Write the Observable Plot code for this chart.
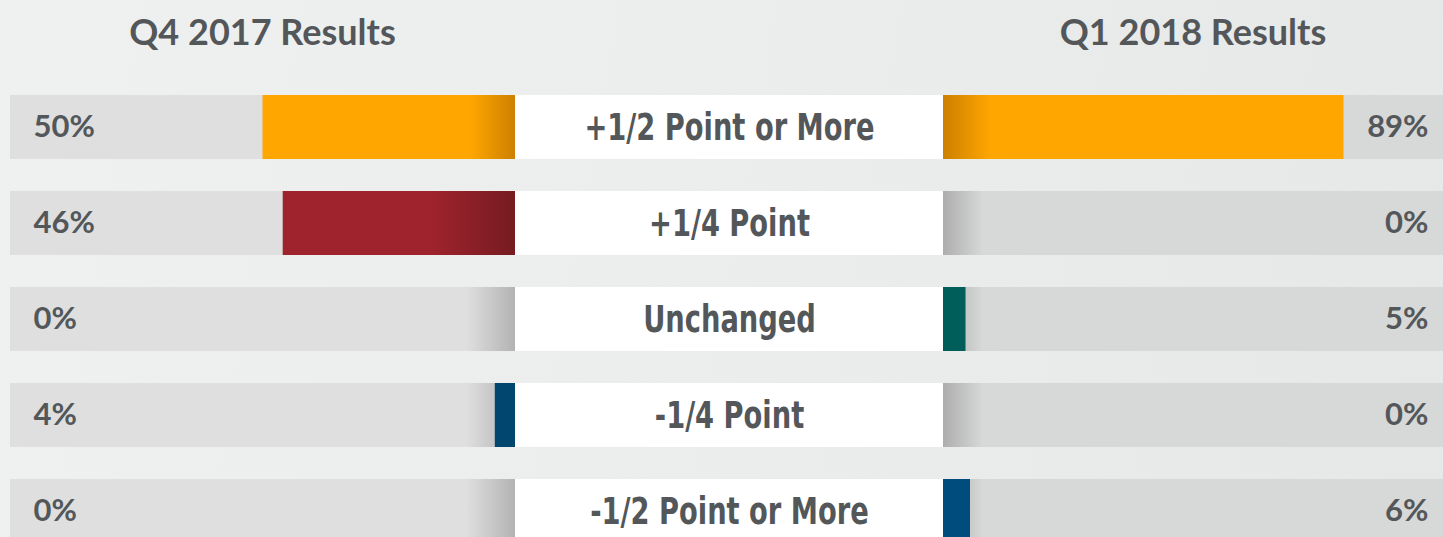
<!DOCTYPE html>
<html><head><meta charset="utf-8">
<script src="https://cdn.jsdelivr.net/npm/d3@7"></script>
<script src="https://cdn.jsdelivr.net/npm/@observablehq/plot@0.6"></script>
<style>
html,body{margin:0;padding:0;}
body{width:1443px;height:537px;overflow:hidden;background:linear-gradient(100deg,#eff1f0 0%,#ebecec 55%,#e6e7e7 100%);}
#head{position:relative;height:80px;}
.title{position:absolute;top:13px;line-height:36px;font-family:Lato,"Open Sans",sans-serif;font-weight:700;font-size:36px;color:#53575a;text-align:center;}
#row{display:flex;height:457px;overflow:hidden;}
#row svg{display:block;}
</style></head>
<body>
<div id="head">
  <div class="title" style="left:10px;width:505px;">Q4 2017 Results</div>
  <div class="title" style="left:943px;width:500px;">Q1 2018 Results</div>
</div>
<div id="row"></div>
<script>
const categories = ["+1/2 Point or More", "+1/4 Point", "Unchanged", "-1/4 Point", "-1/2 Point or More"];
const q4_2017 = [50, 46, 0, 4, 0];
const q1_2018 = [89, 0, 5, 0, 6];

// styles
const leftFills = ["url(#orangeL)", "url(#redL)", "#005e5a", "#00466f", "#004c7c"];
const rightFills = ["url(#orangeR)", "url(#redR)", "#005e5a", "#00466f", "#004c7c"];
const textColor = "#53575a";
const pctFont = "Lato, 'Open Sans', sans-serif";
const catFont = "'DejaVu Sans Condensed', 'DejaVu Sans', sans-serif";
const rightMax = 111.2;

const rows = categories.map((c, i) => ({category: c, q4: q4_2017[i], q1: q1_2018[i], fillL: leftFills[i], fillR: rightFills[i]}));

const yScale = {domain: categories, range: [14, 464], paddingInner: 0.337, paddingOuter: 0, axis: null};
const common = {height: 457, marginTop: 0, marginBottom: 0, color: {type: "identity"},
  style: {background: "transparent", overflow: "hidden"}};

const left = Plot.plot({
  ...common, width: 515, marginLeft: 10, marginRight: 0,
  x: {domain: [0, 100], reverse: true, axis: null},
  y: yScale,
  marks: [
    Plot.barX(rows, {y: "category", x1: 0, x2: 100, fill: "url(#grayL)"}),
    Plot.barX(rows.filter(d => d.q4 > 0), {y: "category", x1: 0, x2: "q4", fill: d => d.fillL}),
    Plot.text(rows, {y: "category", text: d => d.q4 + "%", frameAnchor: "left", textAnchor: "start", dx: 23,
      fill: textColor, fontFamily: pctFont, fontWeight: 700, fontSize: 31})
  ]
});

const center = Plot.plot({
  ...common, width: 428, marginLeft: 0, marginRight: 0,
  x: {domain: [0, 1], axis: null},
  y: yScale,
  marks: [
    Plot.barX(rows, {y: "category", x1: 0, x2: 1, fill: "white"}),
    Plot.text(rows, {y: "category", x: 0.5, text: "category", textAnchor: "middle", dy: 1,
      fill: textColor, fontFamily: catFont, fontWeight: 700, fontSize: 37})
  ]
});

const right = Plot.plot({
  ...common, width: 500, marginLeft: 0, marginRight: 0,
  x: {domain: [0, 100], range: [0, 450], axis: null},
  y: yScale,
  marks: [
    Plot.barX(rows, {y: "category", x1: 0, x2: rightMax, fill: "url(#grayR)"}),
    Plot.barX(rows.filter(d => d.q1 > 0), {y: "category", x1: 0, x2: "q1", fill: d => d.fillR}),
    Plot.text(rows, {y: "category", text: d => d.q1 + "%", frameAnchor: "right", textAnchor: "end", dx: -15,
      fill: textColor, fontFamily: pctFont, fontWeight: 700, fontSize: 31})
  ]
});

d3.select(left).insert("defs", ":first-child").html(`
  <linearGradient id="grayL" gradientUnits="userSpaceOnUse" x1="466" y1="0" x2="515" y2="0">
    <stop offset="0" stop-color="#dedfde"/><stop offset="1" stop-color="#b3b3b3"/></linearGradient>
  <linearGradient id="orangeL" gradientUnits="userSpaceOnUse" x1="470" y1="0" x2="515" y2="0">
    <stop offset="0" stop-color="#ffa600"/><stop offset="1" stop-color="#cd8000"/></linearGradient>
  <linearGradient id="redL" gradientUnits="userSpaceOnUse" x1="430" y1="0" x2="515" y2="0">
    <stop offset="0" stop-color="#9f232d"/><stop offset="1" stop-color="#761b21"/></linearGradient>`);
d3.select(right).insert("defs", ":first-child").html(`
  <linearGradient id="grayR" gradientUnits="userSpaceOnUse" x1="0" y1="0" x2="40" y2="0">
    <stop offset="0" stop-color="#adadad"/><stop offset="1" stop-color="#d7d8d8"/></linearGradient>
  <linearGradient id="orangeR" gradientUnits="userSpaceOnUse" x1="0" y1="0" x2="48" y2="0">
    <stop offset="0" stop-color="#cd8000"/><stop offset="1" stop-color="#ffa600"/></linearGradient>
  <linearGradient id="redR" gradientUnits="userSpaceOnUse" x1="0" y1="0" x2="85" y2="0">
    <stop offset="0" stop-color="#761b21"/><stop offset="1" stop-color="#9f232d"/></linearGradient>`);

const row = document.getElementById("row");
row.append(left, center, right);

// condense the category labels to mimic the narrow typeface
d3.select(center).selectAll("text").each(function() {
  const L = this.getComputedTextLength();
  if (L > 0) {
    this.setAttribute("textLength", (L * 0.82).toFixed(1));
    this.setAttribute("lengthAdjust", "spacingAndGlyphs");
  }
});
</script>
</body></html>
